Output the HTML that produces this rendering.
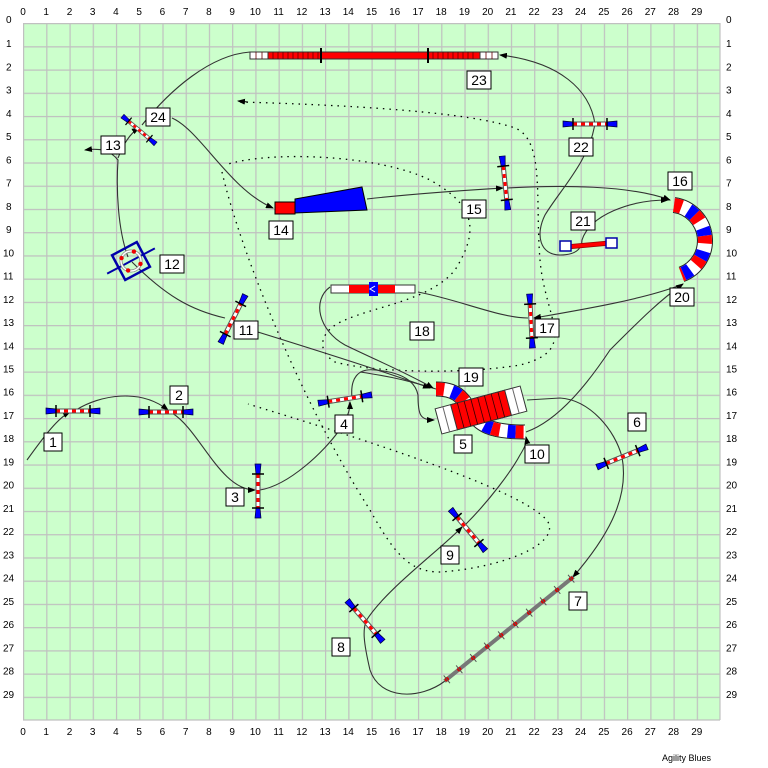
<!DOCTYPE html>
<html><head><meta charset="utf-8"><style>
html,body{margin:0;padding:0;background:#fff;}
svg{display:block;}
text{font-family:"Liberation Sans",Arial,sans-serif;}
</style></head><body>
<svg width="768" height="768" viewBox="0 0 768 768" xmlns="http://www.w3.org/2000/svg">
<defs>
<marker id="ar" markerWidth="8" markerHeight="6" refX="7" refY="3" orient="auto" markerUnits="userSpaceOnUse">
<path d="M0,0 L8,3 L0,6 z" fill="#000"/></marker>
<pattern id="gp" patternUnits="userSpaceOnUse" x="23" y="23" width="23.233" height="23.233">
<path d="M0.6,0 V23.233 M0,0.6 H23.233" stroke="#c0c0c0" stroke-width="1.2" fill="none"/>
</pattern>
<g id="j">
<line x1="-25" y1="0" x2="25" y2="0" stroke="#555" stroke-width="5"/>
<line x1="-25" y1="0" x2="25" y2="0" stroke="#fff" stroke-width="3"/>
<line x1="-17" y1="0" x2="17" y2="0" stroke="#f00" stroke-width="3" stroke-dasharray="4 4"/>
<path d="M-27,-3 L-17,-2 L-17,2 L-27,3 z" fill="#00f" stroke="#003" stroke-width="0.7"/>
<path d="M27,-3 L17,-2 L17,2 L27,3 z" fill="#00f" stroke="#003" stroke-width="0.7"/>
<line x1="-17" y1="-6" x2="-17" y2="6" stroke="#000" stroke-width="1.5"/>
<line x1="17" y1="-6" x2="17" y2="6" stroke="#000" stroke-width="1.5"/>
</g>
</defs>
<rect x="0" y="0" width="768" height="768" fill="#fff"/>
<rect x="23" y="23" width="697" height="697" fill="#ccffcc"/>
<rect x="23" y="23" width="697" height="697" fill="url(#gp)"/>
<path d="M720,23 V720 M23,720 H720" stroke="#c0c0c0" stroke-width="1.2"/>

<g font-size="10" fill="#000" text-anchor="middle">
<text x="23" y="15">0</text><text x="46.2" y="15">1</text><text x="69.5" y="15">2</text><text x="92.7" y="15">3</text><text x="115.9" y="15">4</text><text x="139.2" y="15">5</text><text x="162.4" y="15">6</text><text x="185.6" y="15">7</text><text x="208.9" y="15">8</text><text x="232.1" y="15">9</text><text x="255.3" y="15">10</text><text x="278.6" y="15">11</text><text x="301.8" y="15">12</text><text x="325" y="15">13</text><text x="348.3" y="15">14</text><text x="371.5" y="15">15</text><text x="394.7" y="15">16</text><text x="418" y="15">17</text><text x="441.2" y="15">18</text><text x="464.4" y="15">19</text><text x="487.7" y="15">20</text><text x="510.9" y="15">21</text><text x="534.1" y="15">22</text><text x="557.4" y="15">23</text><text x="580.6" y="15">24</text><text x="603.8" y="15">25</text><text x="627.1" y="15">26</text><text x="650.3" y="15">27</text><text x="673.5" y="15">28</text><text x="696.8" y="15">29</text>
<text x="23" y="735">0</text><text x="46.2" y="735">1</text><text x="69.5" y="735">2</text><text x="92.7" y="735">3</text><text x="115.9" y="735">4</text><text x="139.2" y="735">5</text><text x="162.4" y="735">6</text><text x="185.6" y="735">7</text><text x="208.9" y="735">8</text><text x="232.1" y="735">9</text><text x="255.3" y="735">10</text><text x="278.6" y="735">11</text><text x="301.8" y="735">12</text><text x="325" y="735">13</text><text x="348.3" y="735">14</text><text x="371.5" y="735">15</text><text x="394.7" y="735">16</text><text x="418" y="735">17</text><text x="441.2" y="735">18</text><text x="464.4" y="735">19</text><text x="487.7" y="735">20</text><text x="510.9" y="735">21</text><text x="534.1" y="735">22</text><text x="557.4" y="735">23</text><text x="580.6" y="735">24</text><text x="603.8" y="735">25</text><text x="627.1" y="735">26</text><text x="650.3" y="735">27</text><text x="673.5" y="735">28</text><text x="696.8" y="735">29</text>
</g>
<g font-size="10" fill="#000" text-anchor="start">
<text x="6" y="23">0</text><text x="6" y="47.2">1</text><text x="6" y="70.5">2</text><text x="6" y="93.7">3</text><text x="6" y="116.9">4</text><text x="6" y="140.2">5</text><text x="6" y="163.4">6</text><text x="6" y="186.6">7</text><text x="6" y="209.9">8</text><text x="6" y="233.1">9</text><text x="3" y="256.3">10</text><text x="3" y="279.6">11</text><text x="3" y="302.8">12</text><text x="3" y="326">13</text><text x="3" y="349.3">14</text><text x="3" y="372.5">15</text><text x="3" y="395.7">16</text><text x="3" y="419">17</text><text x="3" y="442.2">18</text><text x="3" y="465.4">19</text><text x="3" y="488.7">20</text><text x="3" y="511.9">21</text><text x="3" y="535.1">22</text><text x="3" y="558.4">23</text><text x="3" y="581.6">24</text><text x="3" y="604.8">25</text><text x="3" y="628.1">26</text><text x="3" y="651.3">27</text><text x="3" y="674.5">28</text><text x="3" y="697.8">29</text>
<text x="726" y="23">0</text><text x="726" y="47.2">1</text><text x="726" y="70.5">2</text><text x="726" y="93.7">3</text><text x="726" y="116.9">4</text><text x="726" y="140.2">5</text><text x="726" y="163.4">6</text><text x="726" y="186.6">7</text><text x="726" y="209.9">8</text><text x="726" y="233.1">9</text><text x="726" y="256.3">10</text><text x="726" y="279.6">11</text><text x="726" y="302.8">12</text><text x="726" y="326">13</text><text x="726" y="349.3">14</text><text x="726" y="372.5">15</text><text x="726" y="395.7">16</text><text x="726" y="419">17</text><text x="726" y="442.2">18</text><text x="726" y="465.4">19</text><text x="726" y="488.7">20</text><text x="726" y="511.9">21</text><text x="726" y="535.1">22</text><text x="726" y="558.4">23</text><text x="726" y="581.6">24</text><text x="726" y="604.8">25</text><text x="726" y="628.1">26</text><text x="726" y="651.3">27</text><text x="726" y="674.5">28</text><text x="726" y="697.8">29</text>
</g>
<text x="662" y="761" font-size="9" fill="#000">Agility Blues</text>

<!-- dotted handler paths -->
<g fill="none" stroke="#000" stroke-width="1.3" stroke-dasharray="1.5 5">
<path d="M240,102 C350,105 470,112 515,128 C545,140 535,200 540,260 C545,320 580,350 520,365 C460,375 370,372 335,362 C315,350 320,330 345,320 C380,305 430,300 455,270 C480,230 475,205 430,180 C380,155 270,150 225,165"/>
<path d="M222,172 C240,250 300,400 370,510 C395,555 410,572 440,572 C500,568 560,545 548,522 C530,495 400,450 248,404"/>
</g>
<path d="M248,102 L238,101" stroke="#000" stroke-width="1" marker-end="url(#ar)"/>

<!-- solid course path -->
<g fill="none" stroke="#333" stroke-width="1.1">
<path d="M27,460 C45,435 58,418 70,412" marker-end="url(#ar)"/>
<path d="M76,410 C100,395 140,388 168,410" marker-end="url(#ar)"/>
<path d="M172,413 C200,430 220,490 255,490" marker-end="url(#ar)"/>
<path d="M260,490 C290,485 325,450 338,432 C348,418 350,410 350,402" marker-end="url(#ar)"/>
<path d="M352,398 C350,378 358,368 375,370 C400,372 415,380 418,395 C418,415 420,420 434,420" marker-end="url(#ar)"/>
<path d="M527,400 L560,398 C590,400 615,430 622,457 C630,500 605,540 573,577" marker-end="url(#ar)"/>
<path d="M445,681 C420,700 380,700 370,670 C363,640 363,630 366,621 C385,590 440,550 462,527" marker-end="url(#ar)"/>
<path d="M466,524 C490,500 512,470 520,455 C525,447 527,442 526,437" marker-end="url(#ar)"/>
<path d="M436,389 C400,378 380,375 360,372"/>
<path d="M245,328 C300,345 380,370 430,388" marker-end="url(#ar)"/>
<path d="M225,318 C190,310 165,295 132,262"/>
<path d="M128,257 C118,230 116,190 118,160 C110,150 100,148 85,150" marker-end="url(#ar)"/>
<path d="M118,158 C125,140 132,132 139,128" marker-end="url(#ar)"/>
<path d="M142,125 C170,90 210,55 250,52"/>
<path d="M172,118 C200,130 230,190 273,208" marker-end="url(#ar)"/>
<path d="M367,199 C420,193 470,190 503,188" marker-end="url(#ar)"/>
<path d="M507,188 C560,185 630,185 670,200" marker-end="url(#ar)"/>
<path d="M678,286 C640,300 580,310 534,318" marker-end="url(#ar)"/>
<path d="M528,318 C500,318 460,300 418,292"/>
<path d="M330,287 C312,300 318,330 345,345 C380,362 405,372 433,388" marker-end="url(#ar)"/>
<path d="M526,432 C560,420 590,380 610,350 C640,320 660,300 683,284" marker-end="url(#ar)"/>
<path d="M595,123 C590,160 560,190 545,215 C535,235 540,255 560,255 C580,255 582,245 582,240 C590,215 630,200 668,200" marker-end="url(#ar)"/>
<path d="M595,124 C590,90 560,62 500,55" marker-end="url(#ar)"/>
</g>

<!-- tunnel 23 -->
<rect x="250" y="52" width="248" height="7" fill="#f00" stroke="#333" stroke-width="1"/>
<rect x="250" y="52" width="18" height="7" fill="#fff" stroke="#333" stroke-width="1"/>
<rect x="480" y="52" width="18" height="7" fill="#fff" stroke="#333" stroke-width="1"/>
<path d="M256,52v7M262,52v7M486,52v7M492,52v7M273,52v7M278,52v7M283,52v7M288,52v7M293,52v7M298,52v7M303,52v7M308,52v7M313,52v7M318,52v7M433,52v7M438,52v7M443,52v7M448,52v7M453,52v7M458,52v7M463,52v7M468,52v7M473,52v7" stroke="#600" stroke-width="0.8"/>
<path d="M321,48v15M428,48v15" stroke="#000" stroke-width="2"/>

<!-- chute 14 -->
<path d="M295,199 L362,187 L367,210 L295,213 z" fill="#00f" stroke="#000" stroke-width="1"/>
<rect x="275" y="202" width="20" height="12" fill="#f00" stroke="#000" stroke-width="1"/>

<!-- seesaw 18 -->
<g transform="translate(373,289)">
<rect x="-42" y="-4" width="84" height="8" fill="#fff" stroke="#333" stroke-width="1"/>
<rect x="-24" y="-4" width="46" height="8" fill="#f00"/>
<rect x="-4" y="-7" width="9" height="14" fill="#00f"/>
<path d="M2,-3 L-3,0 L2,3" stroke="#fff" fill="none" stroke-width="1"/>
</g>

<!-- tunnel 16-20 -->
<g fill="none">
<path d="M674,205 A36,36 0 0 1 681.5,274.4" stroke="#222" stroke-width="16"/>
<path d="M674,205 A36,36 0 0 1 681.5,274.4" stroke="#fff" stroke-width="14"/>
<path d="M674,205 A36,36 0 0 1 681.5,274.4" stroke="#f00" stroke-width="14" stroke-dasharray="7.75 15.5"/>
<path d="M674,205 A36,36 0 0 1 681.5,274.4" stroke="#00f" stroke-width="14" stroke-dasharray="7.75 15.5" stroke-dashoffset="-15.5"/>
</g>

<!-- tunnel 19/10 -->
<g fill="none">
<path d="M436,389 C455,389 462,396 470,410 C478,425 490,432 525,432" stroke="#222" stroke-width="15"/>
<path d="M436,389 C455,389 462,396 470,410 C478,425 490,432 525,432" stroke="#fff" stroke-width="13"/>
<path d="M436,389 C455,389 462,396 470,410 C478,425 490,432 525,432" stroke="#f00" stroke-width="13" stroke-dasharray="8 16"/>
<path d="M436,389 C455,389 462,396 470,410 C478,425 490,432 525,432" stroke="#00f" stroke-width="13" stroke-dasharray="8 16" stroke-dashoffset="-16"/>
</g>

<!-- A-frame 5 -->
<g transform="translate(481,410) rotate(-15)">
<rect x="-44" y="-13" width="88" height="26" fill="#fff" stroke="#333" stroke-width="1"/>
<rect x="-28" y="-13" width="56" height="26" fill="#f00" stroke="#333" stroke-width="1"/>
<path d="M-21,-13v26M-14,-13v26M-7,-13v26M0,-13v26M7,-13v26M14,-13v26M21,-13v26" stroke="#300" stroke-width="0.8"/>
<path d="M-36,-13v26M36,-13v26" stroke="#666" stroke-width="1"/>
</g>

<!-- dogwalk 7 -->
<g transform="translate(509,629) rotate(-39)">
<line x1="-83" y1="0" x2="83" y2="0" stroke="#777" stroke-width="4"/>
<g fill="#d00"><circle cx="-80" cy="0" r="2.2"/><circle cx="-64" cy="0" r="2.2"/><circle cx="-46" cy="0" r="2.2"/><circle cx="-28" cy="0" r="2.2"/><circle cx="-10" cy="0" r="2.2"/><circle cx="8" cy="0" r="2.2"/><circle cx="26" cy="0" r="2.2"/><circle cx="44" cy="0" r="2.2"/><circle cx="62" cy="0" r="2.2"/><circle cx="80" cy="0" r="2.2"/></g>
<path d="M-80,-5v10M-64,-5v10M-46,-5v10M-28,-5v10M-10,-5v10M8,-5v10M26,-5v10M44,-5v10M62,-5v10M80,-5v10" stroke="#555" stroke-width="1"/>
</g>

<!-- jumps -->
<use href="#j" transform="translate(73,411)"/>
<use href="#j" transform="translate(166,412)"/>
<use href="#j" transform="translate(258,491) rotate(90)"/>
<use href="#j" transform="translate(345,399) rotate(-9)"/>
<use href="#j" transform="translate(622,457) rotate(-22)"/>
<use href="#j" transform="translate(468,530) rotate(50)"/>
<use href="#j" transform="translate(365,621) rotate(49)"/>
<use href="#j" transform="translate(139,130) rotate(40) scale(0.8)"/>
<use href="#j" transform="translate(590,124)"/>
<use href="#j" transform="translate(505,183) rotate(84)"/>
<use href="#j" transform="translate(531,321) rotate(87)"/>
<use href="#j" transform="translate(233,319) rotate(-63)"/>

<!-- tire 12 -->
<g transform="translate(131,261) rotate(-28)">
<line x1="-27" y1="0" x2="27" y2="0" stroke="#00a" stroke-width="2"/>
<rect x="-14" y="-14" width="28" height="28" fill="none" stroke="#00a" stroke-width="2.5"/>
<circle r="10" fill="none" stroke="#888" stroke-width="3"/>
<circle r="10" fill="none" stroke="#fff" stroke-width="1.5"/>
<g fill="#e00"><circle cx="7" cy="-7" r="2.2"/><circle cx="-7" cy="7" r="2.2"/><circle cx="7" cy="7" r="2.2"/><circle cx="-7" cy="-7" r="2.2"/></g>
</g>

<!-- wall 21 -->
<line x1="566" y1="247" x2="610" y2="243" stroke="#900" stroke-width="5"/>
<line x1="566" y1="247" x2="610" y2="243" stroke="#f00" stroke-width="3.5"/>
<rect x="560" y="241" width="11" height="10" fill="#fff" stroke="#00a" stroke-width="1.5"/>
<rect x="606" y="238" width="11" height="10" fill="#fff" stroke="#00a" stroke-width="1.5"/>

<!-- number labels -->
<g fill="#fff" stroke="#000" stroke-width="1">
<rect x="44" y="433" width="18" height="18"/>
<rect x="170" y="386" width="18" height="18"/>
<rect x="226" y="488" width="18" height="18"/>
<rect x="335" y="415" width="18" height="18"/>
<rect x="454" y="435" width="18" height="18"/>
<rect x="628" y="413" width="18" height="18"/>
<rect x="569" y="592" width="18" height="18"/>
<rect x="332" y="638" width="18" height="18"/>
<rect x="441" y="546" width="18" height="18"/>
<rect x="525" y="445" width="24" height="18"/>
<rect x="234" y="321" width="24" height="18"/>
<rect x="160" y="255" width="24" height="18"/>
<rect x="101" y="136" width="24" height="18"/>
<rect x="269" y="221" width="24" height="18"/>
<rect x="462" y="200" width="24" height="18"/>
<rect x="668" y="172" width="24" height="18"/>
<rect x="535" y="319" width="24" height="18"/>
<rect x="410" y="322" width="24" height="18"/>
<rect x="459" y="368" width="24" height="18"/>
<rect x="670" y="288" width="24" height="18"/>
<rect x="571" y="212" width="24" height="18"/>
<rect x="569" y="138" width="24" height="18"/>
<rect x="467" y="71" width="24" height="18"/>
<rect x="146" y="108" width="24" height="18"/>
</g>
<g font-size="14" text-anchor="middle" fill="#000">
<text x="53" y="447">1</text>
<text x="179" y="400">2</text>
<text x="235" y="502">3</text>
<text x="344" y="429">4</text>
<text x="463" y="449">5</text>
<text x="637" y="427">6</text>
<text x="578" y="606">7</text>
<text x="341" y="652">8</text>
<text x="450" y="560">9</text>
<text x="537" y="459">10</text>
<text x="246" y="335">11</text>
<text x="172" y="269">12</text>
<text x="113" y="150">13</text>
<text x="281" y="235">14</text>
<text x="474" y="214">15</text>
<text x="680" y="186">16</text>
<text x="547" y="333">17</text>
<text x="422" y="336">18</text>
<text x="471" y="382">19</text>
<text x="682" y="302">20</text>
<text x="583" y="226">21</text>
<text x="581" y="152">22</text>
<text x="479" y="85">23</text>
<text x="158" y="122">24</text>
</g>
</svg>
</body></html>
